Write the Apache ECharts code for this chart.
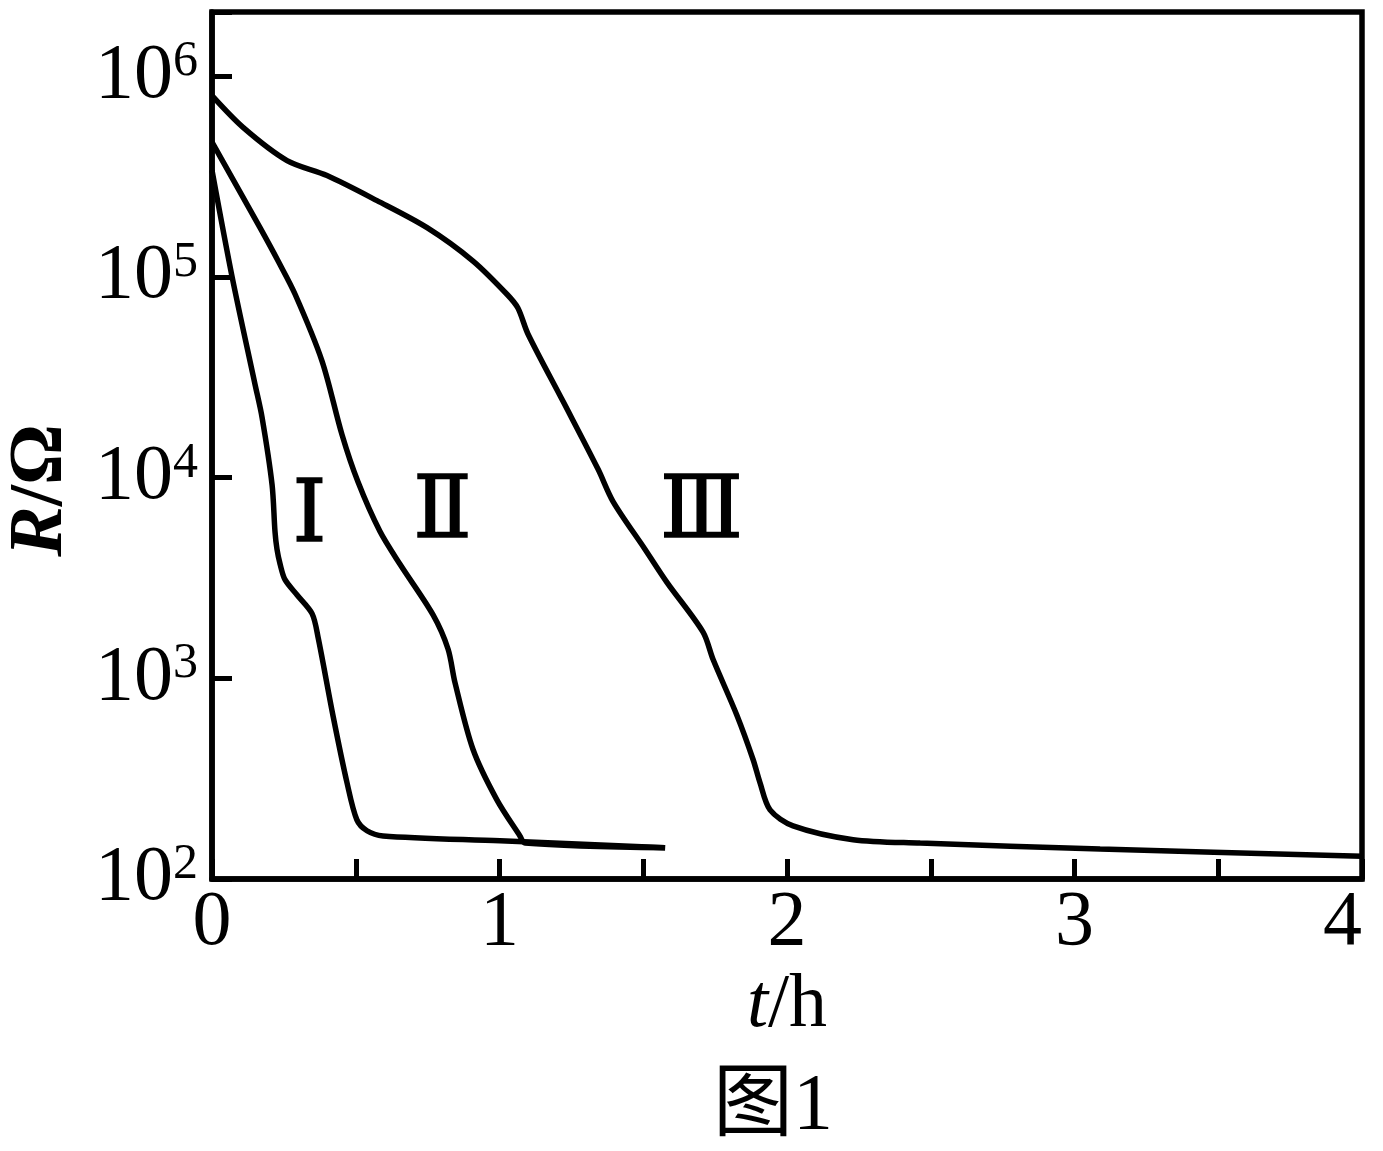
<!DOCTYPE html>
<html>
<head>
<meta charset="utf-8">
<style>
  html, body { margin: 0; padding: 0; background: #fff; }
  #chart { width: 1383px; height: 1151px; }
</style>
<script src="https://cdn.jsdelivr.net/npm/echarts@6/dist/echarts.min.js"></script>
</head>
<body>
<div id="chart"></div>
<script>
// t (h) and R (Ω)
const tI   = [0, 0.070, 0.150, 0.174, 0.209, 0.219, 0.226, 0.237, 0.254, 0.296, 0.348, 0.369, 0.421, 0.470, 0.504, 0.539, 0.595, 1.002, 1.576];
const rI   = [3.4e5, 1.0e5, 2.9e4, 2.0e4, 9.2e3, 5.4e3, 4.4e3, 3.7e3, 3.1e3, 2.6e3, 2.1e3, 1.6e3, 650, 300, 197, 174, 164, 155, 143];

const tII  = [0, 0.167, 0.230, 0.289, 0.383, 0.452, 0.508, 0.584, 0.654, 0.769, 0.821, 0.845, 0.908, 0.991, 1.071, 1.089, 1.576];
const rII  = [4.7e5, 1.76e5, 1.2e5, 8.2e4, 3.8e4, 1.64e4, 9.5e3, 5.4e3, 3.7e3, 2.07e3, 1.4e3, 955, 442, 248, 164, 151, 143];

const tIII = [0, 0.108, 0.261, 0.400, 0.574, 0.748, 0.908, 1.026, 1.064, 1.099, 1.221, 1.343, 1.395, 1.506, 1.583, 1.708, 1.743, 1.826, 1.882, 1.906, 1.941, 2.021, 2.230, 2.463, 3.089, 4.0];
const rIII = [8.0e5, 5.56e5, 3.8e5, 3.2e5, 2.4e5, 1.76e5, 1.2e5, 8.2e4, 7.0e4, 5.2e4, 2.4e4, 1.1e4, 7.6e3, 4.4e3, 3.0e3, 1.7e3, 1.24e3, 653, 394, 302, 221, 184, 157, 151, 141, 130];

// curve labels: text and anchor position (t, R)
const curveNames = ['Ⅰ', 'Ⅱ', 'Ⅲ'];
const labelT = [0.341, 0.803, 1.704];
const labelR = [6.2e3, 6.5e3, 6.5e3];

const xTickLabels = ['0', '1', '2', '3', '4'];

const SERIF = "'Liberation Serif', 'Times New Roman', 'DejaVu Serif', serif";
const zip = (a, b) => a.map((v, i) => [v, b[i]]);

const lineStyle = { color: '#000', width: 5.5 };
function curve(t, r) {
  return {
    type: 'line', data: zip(t, r), smooth: 0.3, showSymbol: false, symbol: 'none',
    lineStyle: lineStyle, silent: true, z: 3
  };
}

const chart = echarts.init(document.getElementById('chart'), null, { renderer: 'canvas' });
chart.setOption({
  animation: false,
  backgroundColor: '#fff',
  title: {
    text: '图1', left: 708, top: 1063,
    textStyle: { fontFamily: "'Liberation Serif', 'Noto Sans CJK SC', serif", fontSize: 80, fontWeight: 'normal', color: '#000' }
  },
  grid: {
    left: 212, right: 21, top: 12, bottom: 272, containLabel: false, outerBoundsMode: 'none',
    show: true, borderColor: '#000', borderWidth: 5.5, backgroundColor: 'transparent'
  },
  xAxis: {
    type: 'value', min: 0, max: 4, interval: 0.5,
    name: '{i|t}/h', nameLocation: 'middle', nameGap: 87,
    nameTextStyle: { fontFamily: SERIF, fontSize: 76, color: '#000', rich: { i: { fontFamily: SERIF, fontSize: 76, fontStyle: 'italic', color: '#000' } } },
    axisLine: { lineStyle: { color: '#000', width: 5.5 } },
    axisTick: { inside: true, length: 20, lineStyle: { color: '#000', width: 5 } },
    splitLine: { show: false },
    axisLabel: {
      margin: 6, fontFamily: SERIF, fontSize: 78, color: '#000', alignMaxLabel: 'right',
      formatter: v => (Math.abs(v - Math.round(v)) < 1e-9 ? xTickLabels[Math.round(v)] : '')
    }
  },
  yAxis: {
    type: 'log', logBase: 10, min: 100, max: 2.09e6,
    name: '{i|R}/Ω', nameLocation: 'middle', nameGap: 133, nameRotate: 90,
    nameTextStyle: {
      fontFamily: SERIF, fontSize: 76, fontWeight: 'bold', color: '#000', padding: [0, 90, 0, 0],
      rich: { i: { fontFamily: SERIF, fontSize: 76, fontStyle: 'italic', fontWeight: 'bold', color: '#000' } }
    },
    axisLine: { lineStyle: { color: '#000', width: 5.5 } },
    axisTick: { inside: true, length: 20, lineStyle: { color: '#000', width: 5 } },
    splitLine: { show: false },
    minorTick: { show: false },
    axisLabel: {
      margin: 14, fontFamily: SERIF, fontSize: 78, color: '#000',
      formatter: v => {
        const e = Math.log10(v), r = Math.round(e);
        if (Math.abs(e - r) > 1e-6) return '';
        return '10{sup|' + r + '}';
      },
      rich: { sup: { fontFamily: SERIF, fontSize: 50, color: '#000', verticalAlign: 'top', lineHeight: 50 } }
    }
  },
  series: [
    curve(tI, rI),
    curve(tII, rII),
    curve(tIII, rIII),
    {
      type: 'scatter', symbolSize: 1, silent: true, z: 4,
      itemStyle: { color: 'rgba(0,0,0,0)' },
      data: curveNames.map((n, i) => ({ value: [labelT[i], labelR[i]], name: n })),
      label: {
        show: true, position: [0, 0], align: 'center', verticalAlign: 'middle', formatter: p => p.name,
        fontFamily: "'Liberation Serif', 'DejaVu Serif', 'Noto Sans CJK SC', serif", fontSize: 86, fontWeight: 'normal',
        color: '#000000', opacity: 1, textBorderWidth: 1.5, textBorderColor: '#000000'
      }
    }
  ]
});
</script>
</body>
</html>
